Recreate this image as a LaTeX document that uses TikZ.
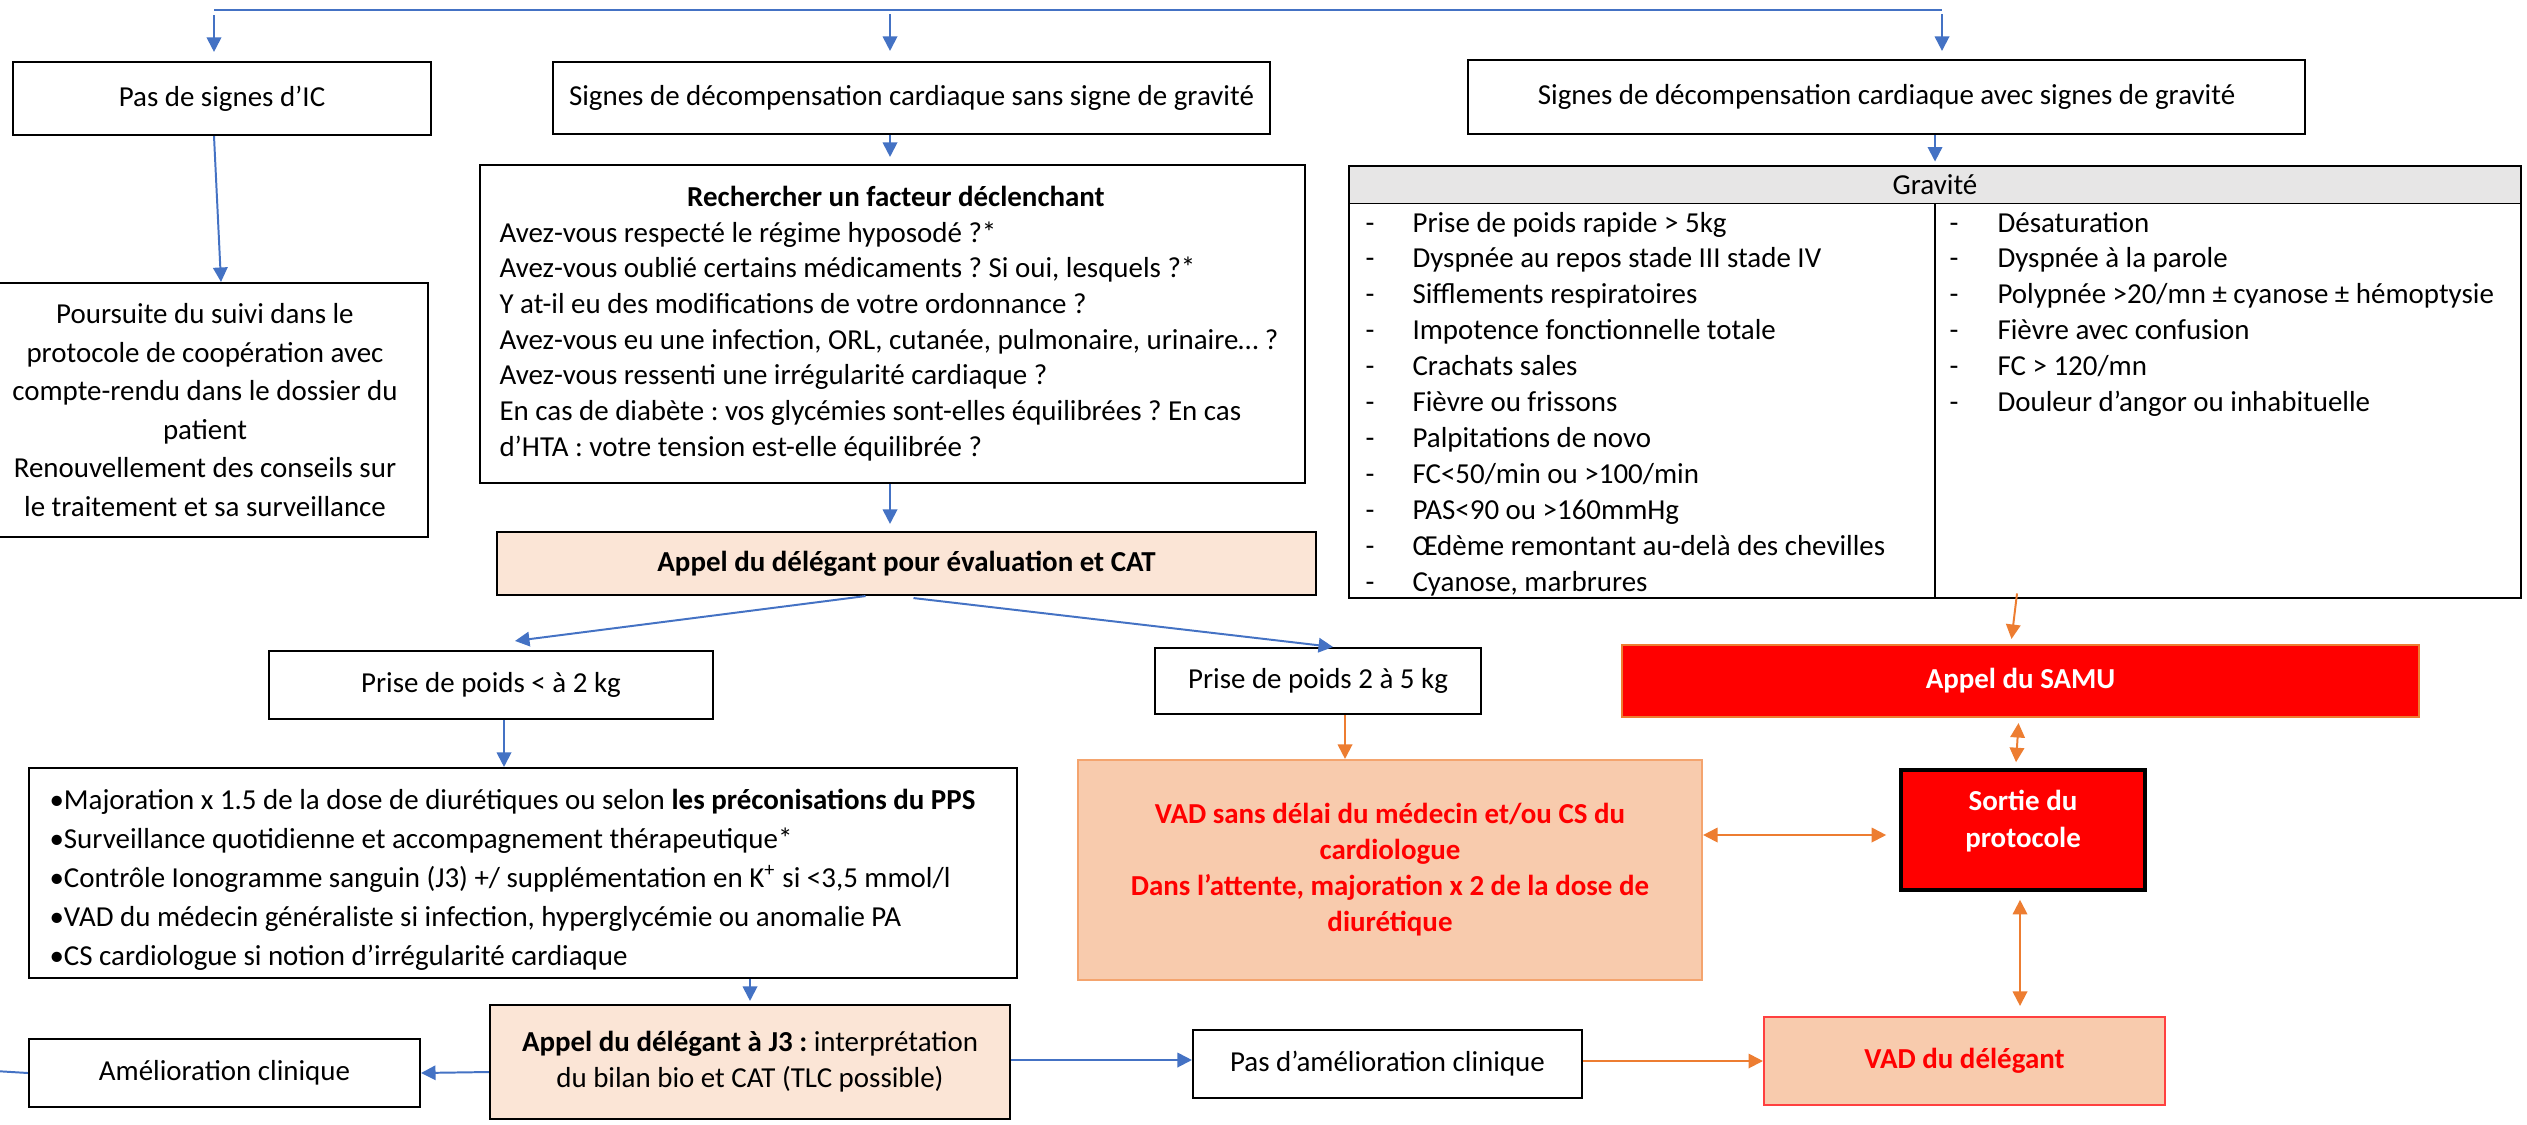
\documentclass[tikz,border=0pt]{standalone}
\usepackage{fontspec}
\setmainfont{Carlito}
\frenchspacing
\usetikzlibrary{arrows.meta,calc}
\definecolor{cblue}{HTML}{4472C4}
\definecolor{corange}{HTML}{ED7D31}
\definecolor{cpeach}{HTML}{FBE5D6}
\definecolor{csalmon}{HTML}{F8CBAD}
\definecolor{csalmonline}{HTML}{F4A46E}
\definecolor{cgray}{HTML}{E7E6E6}
\definecolor{cred}{HTML}{FF0000}
\definecolor{cvadred}{HTML}{FF4040}
\tikzset{
  txt/.style={font=\fontsize{11}{13.6}\selectfont},
  btxt/.style={font=\fontsize{11}{13.6}\selectfont\bfseries},
  % rectangle given by its corners (x1,y1) (x2,y2) in picture units
  rect/.style n args={4}{minimum width={(#3-(#1))*0.38pt}, minimum height={(#4-(#2))*0.38pt},
    at={({(#1+#3)/2},{(#2+#4)/2})}},
  box/.style={draw=black, line width=0.8pt, inner sep=0pt, align=center},
  bline/.style={draw=cblue, line width=0.75pt},
  bflow/.style={draw=cblue, fill=cblue, line width=0.75pt, -{Triangle[length=5.5pt,width=5.5pt]}},
  oflow/.style={draw=corange, fill=corange, line width=0.75pt, -{Triangle[length=5.5pt,width=5.5pt]}},
  oboth/.style={draw=corange, fill=corange, line width=0.75pt, {Triangle[length=5.5pt,width=5.5pt]}-{Triangle[length=5.5pt,width=5.5pt]}},
}
\begin{document}
\begin{tikzpicture}[x=0.38pt,y=-0.38pt, every node/.style={txt, inner sep=0pt}]
\path[use as bounding box, fill=white] (0,0) rectangle (2527,1124);

% --- first level: three situations
\node[box, rect={13}{62}{431}{135}] (noic) {Pas de signes d’IC};
\node[box, rect={553}{62}{1270}{134}] (sans) {Signes de décompensation cardiaque sans signe de gravité};
\node[box, rect={1468}{60}{2305}{134}] (avec) {Signes de décompensation cardiaque avec signes de gravité};

% --- follow-up without signs
\node[box, rect={-18}{283}{428}{537}, font=\fontsize{11}{14.6}\selectfont] (suivi)
  {Poursuite du suivi dans le\\protocole de coopération avec\\compte-rendu dans le dossier du\\patient\\Renouvellement des conseils sur\\le traitement et sa surveillance};

% --- search for a trigger
\node[box, rect={480}{165}{1305}{483}] (facteur) {};
\node[btxt, anchor=base] (facteurt) at (896,206) {Rechercher un facteur déclenchant};
\foreach \ln [count=\i from 0] in {
  {Avez-vous respecté le régime hyposodé ?*},
  {Avez-vous oublié certains médicaments ? Si oui, lesquels ?*},
  {Y at-il eu des modifications de votre ordonnance ?},
  {Avez-vous eu une infection, ORL, cutanée, pulmonaire, urinaire… ?},
  {Avez-vous ressenti une irrégularité cardiaque ?},
  {En cas de diabète : vos glycémies sont-elles équilibrées ? En cas},
  {d’HTA : votre tension est-elle équilibrée ?}}
  \node[anchor=base west] (fq\i) at (499,242+35.7*\i) {\ln};

\node[box, fill=cpeach, btxt, rect={497}{532}{1316}{595}] (appel) {Appel du délégant pour évaluation et CAT};

% --- weight gain branches
\node[box, rect={269}{651}{713}{719}] (pp2) {Prise de poids < à 2 kg};
\node[box, rect={1155}{648}{1481}{714}] (pp25) {Prise de poids 2 à 5 kg};

\node[box, rect={29}{768}{1017}{978}] (major) {};
\foreach \ln [count=\i from 0] in {
  {•Majoration x 1.5 de la dose de diurétiques ou selon \textbf{les préconisations du PPS}},
  {•Surveillance quotidienne et accompagnement thérapeutique*},
  {•Contrôle Ionogramme sanguin (J3) +/ supplémentation en K\textsuperscript{+} si <3,5 mmol/l},
  {•VAD du médecin généraliste si infection, hyperglycémie ou anomalie PA},
  {•CS cardiologue si notion d’irrégularité cardiaque}}
  \node[anchor=base west] (mj\i) at (49,809+39.2*\i) {\ln};

\node[box, fill=cpeach, rect={490}{1005}{1010}{1119}, font=\fontsize{11}{13.7}\selectfont] (j3)
  {\textbf{Appel du délégant à J3 :} interprétation\\du bilan bio et CAT (TLC possible)};
\node[box, rect={29}{1039}{420}{1107}] (amelio) {Amélioration clinique};
\node[box, rect={1193}{1030}{1582}{1098}] (pasamelio) {Pas d’amélioration clinique};
\node[box, draw=cvadred, fill=csalmon, text=cred, btxt, rect={1764}{1017}{2165}{1105}] (vadd) {VAD du délégant};
\node[box, draw=csalmonline, fill=csalmon, text=cred, rect={1078}{760}{1702}{980},
  font=\fontsize{11}{13.7}\selectfont\bfseries] (vadsd)
  {VAD sans délai du médecin et/ou CS du\\cardiologue\\Dans l’attente, majoration x 2 de la dose de\\diurétique};

% --- severe signs
\node[box, draw=corange, fill=cred, text=white, btxt, rect={1622}{645}{2419}{717}] (samu) {Appel du SAMU};
\node[box, line width=1.4pt, fill=cred, rect={1901}{770}{2145}{890}] (sortie) {};
\node[text=white, align=center, font=\fontsize{11}{14.3}\selectfont\bfseries] (sortiet) at (2023,821) {Sortie du\\protocole};

% --- severity table
\node[fill=cgray, rect={1349}{166}{2521}{203}] (gravh) {Gravité};
\node[draw=black, line width=1.1pt, rect={1349}{166}{2521}{598}] (grav) {};
\coordinate (gdiv) at (1935,400);
\draw[line width=0.6pt] (gravh.south west) -- (gravh.south east);
\draw[line width=0.6pt] (gdiv |- gravh.south) -- (gdiv |- grav.south);
\foreach \ln [count=\i from 0] in {
  {Prise de poids rapide > 5kg},
  {Dyspnée au repos stade III stade IV},
  {Sifflements respiratoires},
  {Impotence fonctionnelle totale},
  {Crachats sales},
  {Fièvre ou frissons},
  {Palpitations de novo},
  {FC<50/min ou >100/min},
  {PAS<90 ou >160mmHg},
  {Œdème remontant au-delà des chevilles},
  {Cyanose, marbrures}}
  {\node[anchor=base west] (gld\i) at (1365,232+35.9*\i) {-};
   \node[anchor=base west] (gl\i) at (1412,232+35.9*\i) {\ln};}
\foreach \ln [count=\i from 0] in {
  {Désaturation},
  {Dyspnée à la parole},
  {Polypnée >20/mn ± cyanose ± hémoptysie},
  {Fièvre avec confusion},
  {FC > 120/mn},
  {Douleur d’angor ou inhabituelle}}
  {\node[anchor=base west] (grd\i) at (1949,232+35.9*\i) {-};
   \node[anchor=base west] (gr\i) at (1997,232+35.9*\i) {\ln};}

% --- connectors
\coordinate (tl) at (214,10);
\coordinate (tm) at (890,10);
\coordinate (tr) at (1942,10);
\draw[bline] (tl) -- (tr);
\draw[bflow] ($(tl)+(0,5)$) -- ($(noic.north -| tl)+(0,-9)$);
\draw[bflow] ($(tm)+(0,4)$) -- ($(sans.north -| tm)+(0,-10)$);
\draw[bflow] ($(tr)+(0,4)$) -- ($(avec.north -| tr)+(0,-8)$);

\draw[bflow] ($(noic.south)+(-8,0)$) -- ($(suivi.north)+(16,0)$);
\draw[bflow] (sans.south -| tm) -- ($(facteur.north -| tm)+(0,-7)$);
\draw[bflow] (facteur.south -| tm) -- ($(appel.north -| tm)+(0,-7)$);
\draw[bflow] ($(appel.south)+(-41,0)$) -- ($(pp2.north)+(24,-9)$);
\draw[bflow] ($(appel.south)+(7,2)$) -- ($(pp25.north)+(15,0)$);
\draw[bflow] ($(pp2.south)+(13,0)$) coordinate (pm) -- (pm |- major.north);
\draw[bflow] (major.south -| j3.north) -- ($(j3.north)+(0,-3)$);
\draw[bflow] ($(j3.west)+(0,10)$) -- (amelio.east);
\coordinate (lout) at (-5,1071);
\draw[bline] (amelio.west) -- (lout);
\draw[bflow] ($(j3.east)+(0,-2)$) -- ($(pasamelio.west)+(0,-4)$);
\draw[oflow] ($(pasamelio.east)+(0,-3)$) -- (vadd.west);
\draw[oflow] ($(pp25.south)+(27,0)$) coordinate (pv) -- (pv |- vadsd.north);
\draw[bflow] (avec.south -| grav.north) -- ($(grav.north)+(0,-3)$);
\draw[oflow] ($(grav.south)+(82,-6)$) -- ($(samu.north)+(-9,-5)$);
\draw[oboth] ($(samu.south)+(-2,5)$) -- ($(sortie.north)+(-7,-6)$);
\draw[oboth] ($(vadsd.east |- sortie.west)+(0,5)$) -- ($(sortie.west)+(-13,5)$);
\draw[oboth] ($(sortie.south)+(-3,8)$) coordinate (sv) -- ($(sv |- vadd.north)+(0,-10)$);
\end{tikzpicture}
\end{document}
